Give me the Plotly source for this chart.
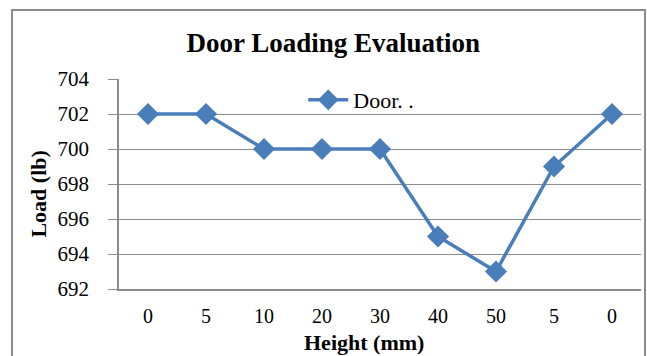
import plotly.graph_objects as go

heights = ["0", "5", "10", "20", "30", "40", "50", "5", "0"]
loads = [702, 702, 700, 700, 700, 695, 693, 699, 702]
y_ticks = [692, 694, 696, 698, 700, 702, 704]

positions = list(range(len(heights)))

fig = go.Figure()
fig.add_trace(go.Scatter(
    x=positions, y=loads, mode="lines+markers", name="Door. .",
    line=dict(color="#4A7EBB", width=3.5),
    marker=dict(symbol="diamond", size=17, color="#4A7EBB"),
))

serif = "Liberation Serif, Times New Roman, serif"
grid = "#8C8C8C"
fig.update_layout(
    width=647, height=356,
    margin=dict(l=119, r=6, t=79, b=67),
    paper_bgcolor="white", plot_bgcolor="white",
    font=dict(family=serif, color="black"),
    title=dict(text="<b>Door Loading Evaluation</b>", x=0.515, xanchor="center",
               y=0.88, yanchor="middle", font=dict(size=27, family=serif)),
    showlegend=True,
    legend=dict(x=0.353, y=1.0, xanchor="left", yanchor="top",
                bgcolor="rgba(0,0,0,0)", font=dict(size=22, family=serif),
                itemwidth=40),
    xaxis=dict(
        range=[-0.5, len(heights) - 0.5],
        tickvals=positions, ticktext=heights,
        showgrid=False, showline=True, linecolor=grid, linewidth=1.5,
        ticks="", tickfont=dict(size=20, family=serif), zeroline=False,
        ticklabelstandoff=8,
        fixedrange=True,
    ),
    yaxis=dict(
        range=[692, 704], tickvals=y_ticks,
        showgrid=True, gridcolor=grid, gridwidth=1,
        showline=True, linecolor=grid, linewidth=1.5,
        ticks="outside", ticklen=9, tickcolor=grid,
        tickfont=dict(size=21, family=serif), zeroline=False,
        ticklabelstandoff=15,
        fixedrange=True,
    ),
    annotations=[
        dict(text="<b>Load (lb)</b>", xref="paper", yref="paper",
             x=-0.155, y=0.45, xanchor="center", yanchor="middle",
             textangle=-90, showarrow=False,
             font=dict(size=22, family=serif, color="black")),
        dict(text="<b>Height (mm)</b>", xref="paper", yref="paper",
             x=0.47, y=-0.255, xanchor="center", yanchor="middle",
             showarrow=False,
             font=dict(size=22, family=serif, color="black")),
    ],
    shapes=[dict(type="rect", xref="paper", yref="paper",
                 x0=-0.205, x1=1.0077, y0=-0.4, y1=1.3286,
                 line=dict(color=grid, width=2), fillcolor="rgba(0,0,0,0)", layer="below")],
)

fig.write_html("out.html", config={"displayModeBar": False},
               post_script="document.body.style.margin='0';document.body.style.overflow='hidden';")
